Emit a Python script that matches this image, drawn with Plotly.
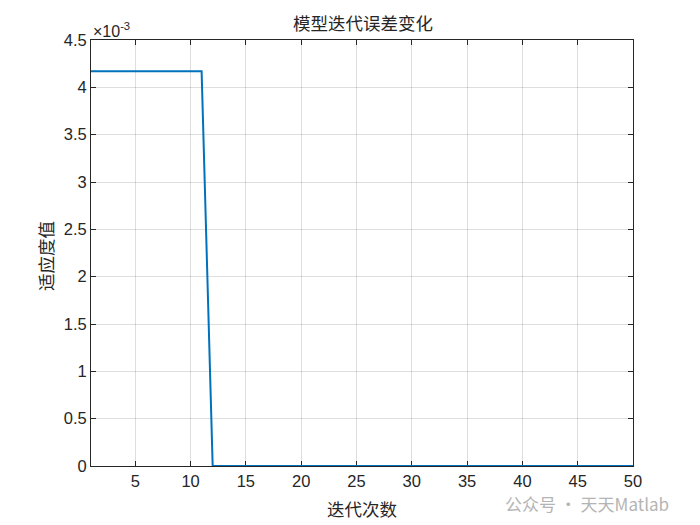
import plotly.graph_objects as go

iterations = list(range(1, 51))
fitness = [0.00417] * 11 + [0.0] * 39
x_ticks = [5, 10, 15, 20, 25, 30, 35, 40, 45, 50]
y_ticks = [0, 0.0005, 0.001, 0.0015, 0.002, 0.0025, 0.003, 0.0035, 0.004, 0.0045]
y_tick_text = ["0", "0.5", "1", "1.5", "2", "2.5", "3", "3.5", "4", "4.5"]

title_text = "模型迭代误差变化"
x_label = "迭代次数"
y_label = "适应度值"
watermark = "公众号 · 天天Matlab"

# page body has an 8px margin; compensate so the plot lands where the reference has it
OFF = 8
W, H = 700 - OFF, 525 - OFF
L, R, T, B = 91 - OFF, 700 - 633, 40 - OFF, 525 - 466
pw, ph = W - L - R, H - T - B


def px(x):
    return (x - OFF - L) / pw


def py(y):
    return (H - B - (y - OFF)) / ph


fig = go.Figure()
fig.add_trace(go.Scatter(x=iterations, y=fitness, mode="lines", cliponaxis=False,
                         line=dict(color="#0072BD", width=2)))

axis_common = dict(
    showline=True, linecolor="#262626", linewidth=1, mirror="ticks",
    ticks="inside", ticklen=5, tickcolor="#262626",
    showgrid=True, gridcolor="rgba(0,0,0,0.13)", gridwidth=1,
    zeroline=False, layer="below traces",
    tickfont=dict(family="Liberation Sans, Arial", size=16.5, color="#262626"),
)

cjk = dict(family="Noto Sans CJK SC", size=17.5, color="#262626")

fig.update_layout(
    width=W, height=H,
    margin=dict(l=L, r=R, t=T, b=B),
    plot_bgcolor="white", paper_bgcolor="white",
    showlegend=False,
    xaxis=dict(range=[1, 50], tickvals=x_ticks, **axis_common),
    yaxis=dict(range=[0, 0.0045], tickvals=y_ticks, ticktext=y_tick_text, **axis_common),
    annotations=[
        dict(text=title_text, xref="paper", yref="paper", x=px(363), y=py(23),
             xanchor="center", yanchor="middle", showarrow=False, font=cjk),
        dict(text=x_label, xref="paper", yref="paper", x=px(362), y=py(508),
             xanchor="center", yanchor="middle", showarrow=False, font=cjk),
        dict(text=y_label, xref="paper", yref="paper", x=px(45), y=py(256),
             xanchor="center", yanchor="middle", textangle=-90, showarrow=False, font=cjk),
        dict(text="×10<sup>-3</sup>", xref="paper", yref="paper", x=px(91), y=py(30),
             xanchor="left", yanchor="middle", showarrow=False,
             font=dict(family="Liberation Sans, Arial", size=16, color="#262626")),
        dict(text=watermark, xref="paper", yref="paper", x=px(587), y=py(503),
             xanchor="center", yanchor="middle", showarrow=False,
             font=dict(family="Noto Sans CJK SC", size=17, color="#b4b4b4")),
    ],
)

fig.write_html("out.html")
